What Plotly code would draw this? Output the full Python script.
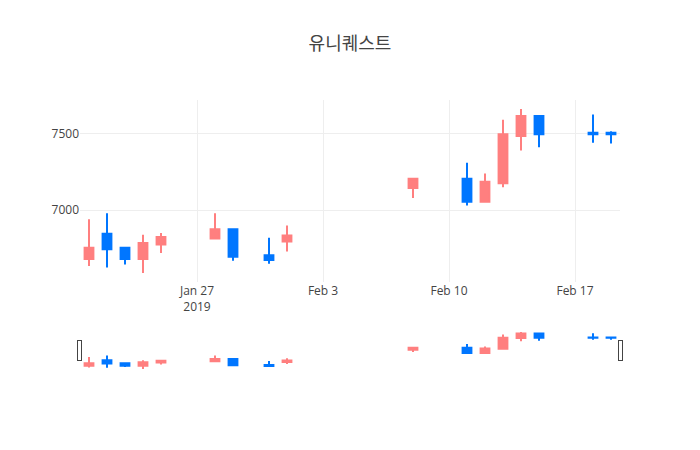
import plotly.graph_objects as go

dates = ["2019-01-21", "2019-01-22", "2019-01-23", "2019-01-24", "2019-01-25",
         "2019-01-28", "2019-01-29", "2019-01-31", "2019-02-01",
         "2019-02-08", "2019-02-11", "2019-02-12", "2019-02-13", "2019-02-14",
         "2019-02-15", "2019-02-18", "2019-02-19"]
open_ = [6680, 6845, 6755, 6680, 6775, 6815, 6875, 6705, 6795,
         7145, 7205, 7055, 7175, 7485, 7615, 7505, 7505]
high = [6940, 6980, 6755, 6840, 6850, 6980, 6880, 6820, 6900,
        7205, 7310, 7240, 7590, 7660, 7615, 7625, 7515]
low = [6635, 6625, 6645, 6590, 6720, 6815, 6670, 6650, 6730,
       7080, 7030, 7055, 7150, 7390, 7410, 7440, 7435]
close = [6755, 6745, 6680, 6785, 6825, 6875, 6695, 6675, 6835,
         7205, 7055, 7185, 7495, 7615, 7495, 7495, 7495]

fig = go.Figure(go.Candlestick(
    x=dates, open=open_, high=high, low=low, close=close,
    increasing=dict(line=dict(color="#FF7F7F"), fillcolor="#FF7F7F"),
    decreasing=dict(line=dict(color="#0076FF"), fillcolor="#0076FF"),
))
fig.update_layout(
    title=dict(text="유니퀘스트", x=0.5, xanchor="center",
               font=dict(size=18)),
    template="none",
    width=700, height=450,
    showlegend=False,
    font=dict(family="Open Sans, Noto Sans CJK KR, sans-serif", color="#444"),
    xaxis=dict(gridcolor="#eee"),
    yaxis=dict(gridcolor="#eee", zeroline=False),
)
fig.write_html("out.html",
               config={"displayModeBar": False},
               post_script="document.body.style.margin='0';")
